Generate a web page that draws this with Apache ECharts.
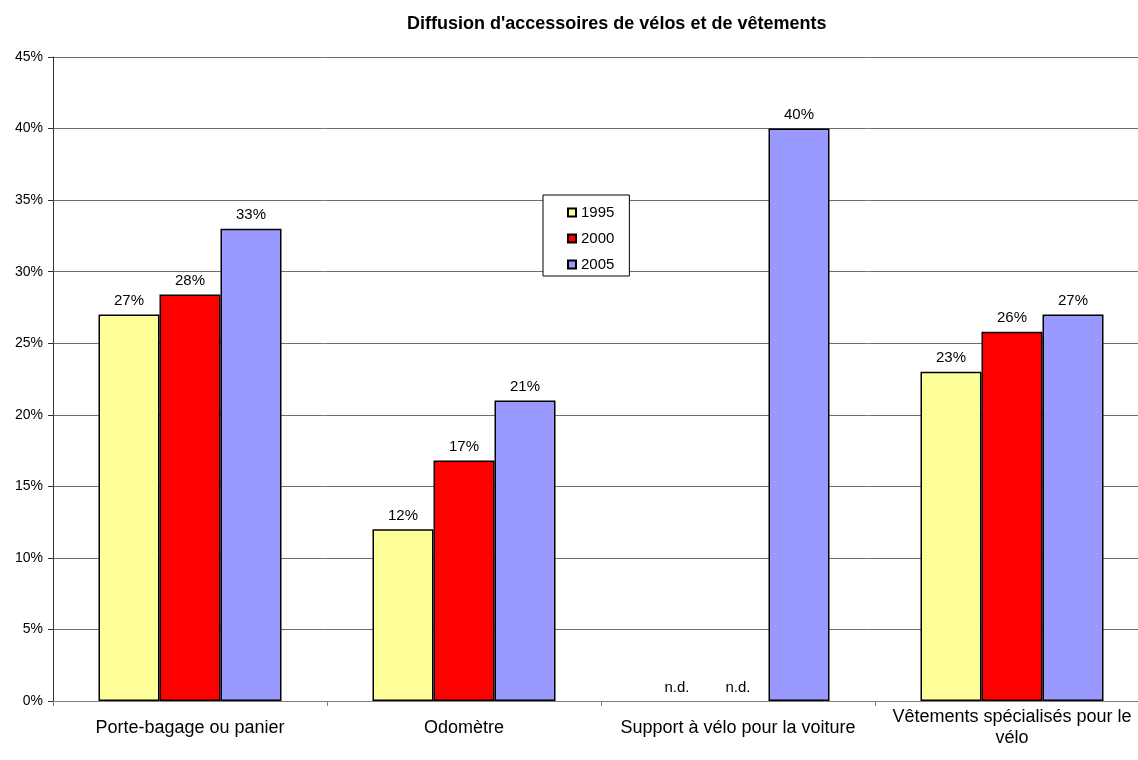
<!DOCTYPE html>
<html>
<head>
<meta charset="utf-8">
<script src="https://cdn.jsdelivr.net/npm/echarts@6/dist/echarts.min.js"></script>
<style>
  html, body { margin: 0; padding: 0; background: #fff; }
  #chart { width: 1138px; height: 760px; }
</style>
</head>
<body>
<div id="chart"></div>
<script>
// catégories et valeurs (en %), null = n.d.
const categories = [
  'Porte-bagage ou panier',
  'Odomètre',
  'Support à vélo pour la voiture',
  'Vêtements spécialisés pour le\nvélo'
];
const years = ['1995', '2000', '2005'];
const values1995 = [27, 12, null, 23];
const values2000 = [28.4, 16.8, null, 25.8];
const values2005 = [33, 21, 40, 27];
const yTicks = [0, 5, 10, 15, 20, 25, 30, 35, 40, 45];

const colors = ['#FFFF99', '#FF0000', '#9999FF'];
const font = 'Liberation Sans, Arial, sans-serif';

function toData(arr) {
  return arr.map(v => v === null
    ? { value: 0, itemStyle: { borderWidth: 0 }, label: { formatter: 'n.d.' } }
    : v);
}

const chart = echarts.init(document.getElementById('chart'));

const option = {
  backgroundColor: '#fff',
  animation: false,
  textStyle: { fontFamily: font },
  title: {
    text: "Diffusion d'accessoires de vélos et de vêtements",
    left: 402,
    top: 10,
    textStyle: { fontSize: 18, fontWeight: 'bold', color: '#000', fontFamily: font }
  },
  legend: {
    orient: 'vertical',
    left: 543,
    top: 195,
    data: years,
    icon: 'rect',
    itemWidth: 8,
    itemHeight: 8,
    itemGap: 11,
    padding: [10, 15, 4, 24],
    borderColor: '#000',
    borderWidth: 1,
    backgroundColor: '#fff',
    textStyle: { fontSize: 15, color: '#000', lineHeight: 15, fontFamily: font }
  },
  // la zone de tracé déborde à droite comme dans l'original
  grid: {
    left: 53,
    width: 1096,
    top: 57,
    bottom: 59,
    containLabel: false,
    outerBoundsMode: 'none'
  },
  xAxis: {
    type: 'category',
    data: categories,
    axisLine: { lineStyle: { color: '#808080', width: 1 } },
    axisTick: { show: true, length: 5, lineStyle: { color: '#808080' } },
    axisLabel: {
      fontSize: 18,
      color: '#000',
      margin: 27,
      verticalAlign: 'middle',
      lineHeight: 21,
      interval: 0,
      fontFamily: font
    }
  },
  yAxis: {
    type: 'value',
    min: yTicks[0],
    max: yTicks[yTicks.length - 1],
    interval: 5,
    axisLine: { show: true, lineStyle: { color: '#333' } },
    axisTick: { show: true, length: 5, lineStyle: { color: '#333' } },
    axisLabel: { formatter: '{value}%', fontSize: 14, color: '#000', margin: 10, fontFamily: font },
    splitLine: { show: true, lineStyle: { color: '#6e6e6e', width: 1 } }
  },
  series: [values1995, values2000, values2005].map((vals, i) => ({
    name: years[i],
    type: 'bar',
    data: toData(vals),
    barWidth: 61,
    barGap: '0%',
    itemStyle: { color: colors[i], borderColor: '#000', borderWidth: 1.5 },
    label: {
      show: true,
      position: 'top',
      distance: 6,
      fontSize: 15,
      color: '#000',
      fontFamily: font,
      formatter: p => Math.round(p.value) + '%'
    }
  }))
};

chart.setOption(option);
</script>
</body>
</html>
